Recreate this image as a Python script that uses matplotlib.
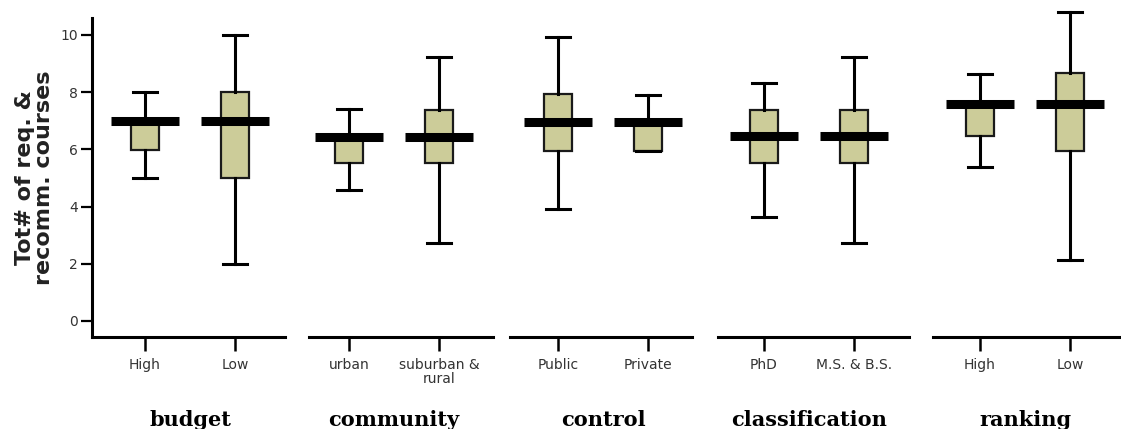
import matplotlib
matplotlib.use("Agg")
import matplotlib.pyplot as plt

# %%
# Values (five groups, two boxes each)
groups = ["budget", "community", "control", "classification", "ranking"]
tick_labels = [
    ["High", "Low"],
    ["urban", "suburban &\nrural"],
    ["Public", "Private"],
    ["PhD", "M.S. & B.S."],
    ["High", "Low"],
]
medians = [[7.0, 7.0], [6.43, 6.43], [6.97, 6.97], [6.45, 6.45], [7.58, 7.58]]
q1 = [[5.97, 5.0], [5.52, 5.52], [5.93, 5.93], [5.52, 5.52], [6.47, 5.93]]
q3 = [[7.0, 8.0], [6.43, 7.38], [7.95, 6.97], [7.38, 7.38], [7.58, 8.66]]
whisk_lo = [[5.0, 2.0], [4.58, 2.73], [3.92, 5.93], [3.63, 2.73], [5.39, 2.13]]
whisk_hi = [[8.0, 10.0], [7.41, 9.23], [9.93, 7.9], [8.33, 9.23], [8.64, 10.8]]
yticks = [0, 2, 4, 6, 8, 10]

# %%
# Layout in pixels of the original picture
W, H = 1121, 429
px_unit = 90.0  # pixels between the two boxes of a group
panel_left = [92, 309, 510, 718, 933]
panel_right = [285, 493, 692, 909, 1121]
first_center = [145, 349, 558, 764, 980]
ax_top, ax_bottom = 18, 337
ylim = (-0.56, 10.59)

box_color = "#CCCC99"
tick_font = ["Liberation Sans Narrow", "DejaVu Sans"]

fig = plt.figure(figsize=(W / 100, H / 100), dpi=100)
fig.patch.set_facecolor("white")

for i, name in enumerate(groups):
    L, R, c = panel_left[i], panel_right[i], first_center[i]
    ax = fig.add_axes([L / W, (H - ax_bottom) / H, (R - L) / W, (ax_bottom - ax_top) / H])
    ax.set_xlim(-(c - L) / px_unit, (R - c) / px_unit)
    ax.set_ylim(*ylim)

    stats = []
    for j in range(2):
        stats.append(dict(med=medians[i][j], q1=q1[i][j], q3=q3[i][j],
                          whislo=whisk_lo[i][j], whishi=whisk_hi[i][j], fliers=[]))
    art = ax.bxp(stats, positions=[0, 1], widths=0.31, capwidths=0.26,
                 patch_artist=True, showfliers=False,
                 boxprops=dict(facecolor=box_color, edgecolor="#1a1a1a", linewidth=1.6),
                 whiskerprops=dict(color="black", linewidth=2.2),
                 capprops=dict(color="black", linewidth=2.2),
                 medianprops=dict(linewidth=0))
    for key in ("whiskers", "caps"):
        for a in art[key]:
            a.set_clip_on(False)
    # wide black median bars
    ax.hlines(medians[i], [p - 0.38 for p in (0, 1)], [p + 0.38 for p in (0, 1)],
              colors="black", linewidth=6.5, zorder=5)

    for s in ("top", "right"):
        ax.spines[s].set_visible(False)
    ax.spines["bottom"].set_linewidth(2.2)
    if i == 0:
        ax.spines["left"].set_linewidth(2.2)
        ax.set_yticks(yticks)
        ax.set_yticklabels([str(t) for t in yticks], family=tick_font,
                           fontsize=10, color="#333333")
        ax.tick_params(axis="y", length=8, width=1.6, pad=2)
        ax.set_ylabel("Tot# of req. &\nrecomm. courses", fontsize=16,
                      fontweight="bold", family="DejaVu Sans",
                      color="#222222", labelpad=5, linespacing=0.9)
    else:
        ax.spines["left"].set_visible(False)
        ax.set_yticks([])

    ax.set_xticks([0, 1])
    ax.set_xticklabels(tick_labels[i], family=tick_font, fontsize=10,
                       color="#333333", linespacing=1.0)
    ax.tick_params(axis="x", length=10, width=1.8, pad=5)
    ax.set_facecolor("none")

    fig.text((c + px_unit / 2) / W, 1 - 420 / H, name, ha="center", va="center",
             family="DejaVu Serif", fontweight="bold", fontsize=15)

fig.savefig("out.png", dpi=100)
